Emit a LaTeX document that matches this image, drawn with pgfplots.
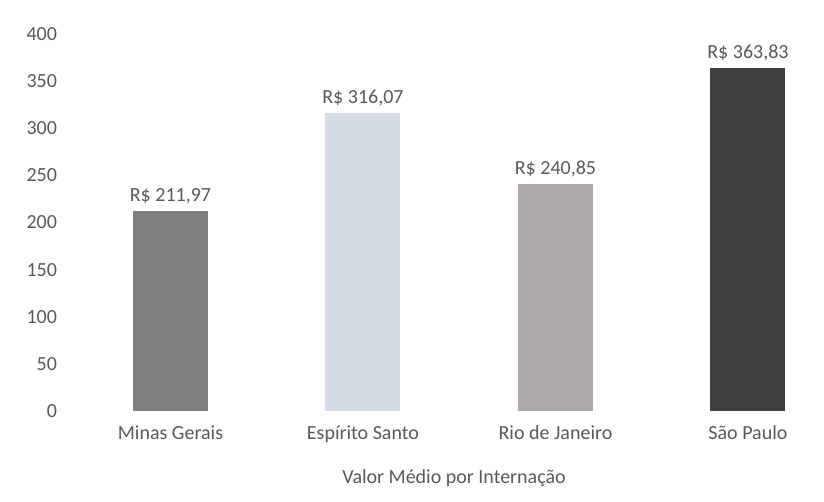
\documentclass[border=0pt]{standalone}
\usepackage{fontspec}
\setmainfont{Carlito}
\usepackage{pgfplots}
\pgfplotsset{compat=1.18}
\definecolor{txtgray}{HTML}{595959}
\definecolor{mgcol}{HTML}{7F7F7F}
\definecolor{escol}{HTML}{D6DCE5}
\definecolor{rjcol}{HTML}{AEAAAA}
\definecolor{spcol}{HTML}{404040}
\begin{document}
\begin{tikzpicture}
\begin{axis}[
  at={(0,0)}, anchor=south west,
  x=96.25pt, y=0.47125pt,
  xmin=-0.553, xmax=3.395,
  ymin=0, ymax=400,
  ybar, bar width=37.5pt,
  axis line style={draw=none},
  major tick length=0pt,
  xtick={0,1,2,3},
  xticklabels={Minas Gerais, Espírito Santo, Rio de Janeiro, São Paulo},
  ytick={0,50,...,400},
  tick label style={font=\normalsize, text=txtgray},
  x tick label style={yshift=-4pt},
  /pgf/number format/assume math mode=true,
  point meta=explicit symbolic,
  nodes near coords,
  nodes near coords style={font=\normalsize, text=txtgray},
  clip=false,
]
\addplot[fill=mgcol, draw=none, bar shift=0pt] coordinates {(0,211.97) [R\$ 211,97]};
\addplot[fill=escol, draw=none, bar shift=0pt] coordinates {(1,316.07) [R\$ 316,07]};
\addplot[fill=rjcol, draw=none, bar shift=0pt] coordinates {(2,240.85) [R\$ 240,85]};
\addplot[fill=spcol, draw=none, bar shift=0pt] coordinates {(3,363.83) [R\$ 363,83]};
\node[text=txtgray, font=\normalsize] at (axis cs:1.473,0) [yshift=-33.5pt] {Valor Médio por Internação};
\end{axis}
\pgfresetboundingbox
\path[use as bounding box] (-32pt,-45.5pt) rectangle (380pt,205.5pt);
\end{tikzpicture}
\end{document}
